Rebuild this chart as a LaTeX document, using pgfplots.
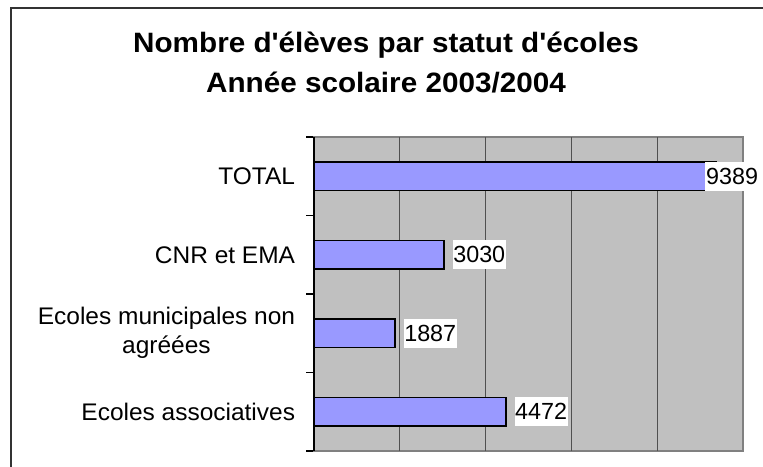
\documentclass[border=0pt]{standalone}
\usepackage{fontspec}
\setmainfont{Liberation Sans}
\newfontfamily\titlefont{Liberation Sans}[FakeStretch=1.06]
\newfontfamily\catfont{Liberation Sans}[FakeStretch=1.02]
\usepackage{pgfplots}
\pgfplotsset{compat=1.18}
\usepackage{pgfplotstable}
\definecolor{BarFill}{HTML}{9999FF}
\definecolor{PlotBg}{HTML}{C0C0C0}
\definecolor{Grid}{HTML}{505050}
\definecolor{Frame}{HTML}{808080}

% y = category position (bottom to top), dx = label shift in pt
\pgfplotstableread{
y x dx
1 4472 6
2 1887 6
3 3030 6
4 9389 -9
}\eleves

\begin{document}
\begin{tikzpicture}
\useasboundingbox (0,0) rectangle (572.25pt,-350.25pt);
% chart area frame (cut at right and bottom)
\draw[black!80, line width=1.1pt] (572.25pt,-6pt) -- (8.25pt,-6pt) -- (8.25pt,-350.25pt);
% title
\node[anchor=base, font=\titlefont\bfseries\fontsize{21}{24}\selectfont] at (289.5pt,-39.5pt) {Nombre d'élèves par statut d'écoles};
\node[anchor=base, font=\titlefont\bfseries\fontsize{21}{24}\selectfont] at (289.5pt,-69.5pt) {Année scolaire 2003/2004};
\begin{axis}[
  at={(235.5pt,-338.25pt)}, anchor=south west,
  scale only axis,
  width=321.75pt, height=235.5pt,
  xbar, bar width=21.5pt,
  xmin=0, xmax=10000,
  ymin=0.5, ymax=4.5,
  xtick=\empty,
  ytick={1,2,3,4},
  yticklabels={Ecoles associatives, {Ecoles municipales non\\agréées}, CNR et EMA, TOTAL},
  minor ytick={0.5,1.5,2.5,3.5,4.5},
  ytick pos=left,
  tick align=outside,
  major tick length=0pt,
  minor tick length=6pt,
  minor tick style={black, line width=0.8pt},
  yticklabel style={anchor=east, inner sep=0pt, xshift=-14pt, align=center,
    font=\catfont\fontsize{18}{21.75}\selectfont},
  axis background/.style={fill=PlotBg},
  axis line style={draw=Frame, line width=1.1pt},
  /pgf/number format/1000 sep={},
  /pgf/number format/assume math mode=true,
  nodes near coords,
  visualization depends on={\thisrow{dx} \as \dx},
  every node near coord/.append style={anchor=west, xshift=\dx pt, fill=white,
    inner xsep=0.5pt, inner ysep=0pt, minimum height=22pt, text=black,
    font=\fontsize{17.5}{21}\selectfont},
  clip=false,
]
% vertical grid every 2000
\pgfplotsinvokeforeach{2000,4000,6000,8000}{
  \draw[Grid, line width=0.8pt] (axis cs:#1,0.5) -- (axis cs:#1,4.5);
}
\addplot[fill=BarFill, draw=black, line width=1pt] table[x=x, y=y] {\eleves};
\draw[black, line width=1.3pt] (rel axis cs:0,0) -- (rel axis cs:0,1);
\end{axis}
\end{tikzpicture}
\end{document}
